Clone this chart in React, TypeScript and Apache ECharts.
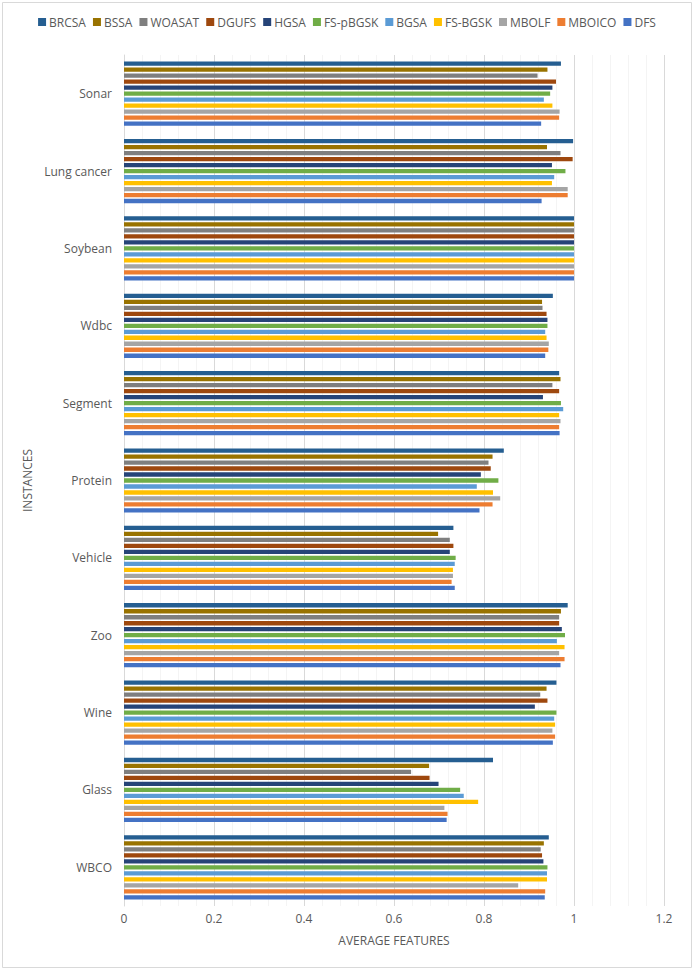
import React, { useEffect, useRef } from "react";
import * as echarts from "echarts";

const categories = ["WBCO", "Glass", "Wine", "Zoo", "Vehicle", "Protein", "Segment", "Wdbc", "Soybean", "Lung cancer", "Sonar"];
const seriesNames = ["BRCSA", "BSSA", "WOASAT", "DGUFS", "HGSA", "FS-pBGSK", "BGSA", "FS-BGSK", "MBOLF", "MBOICO", "DFS"];
const colors = ["#255E91", "#997300", "#7F7F7F", "#9E480E", "#264478", "#70AD47", "#5B9BD5", "#FFC000", "#A5A5A5", "#ED7D31", "#4472C4"];

// values per series, categories in order WBCO..Sonar
const BRCSA = [0.944, 0.820, 0.961, 0.986, 0.732, 0.844, 0.967, 0.953, 1.0, 0.998, 0.971];
const BSSA = [0.933, 0.678, 0.939, 0.971, 0.698, 0.819, 0.970, 0.929, 1.0, 0.940, 0.941];
const WOASAT = [0.926, 0.638, 0.925, 0.967, 0.724, 0.810, 0.952, 0.930, 1.0, 0.970, 0.919];
const DGUFS = [0.929, 0.679, 0.941, 0.967, 0.732, 0.815, 0.967, 0.939, 1.0, 0.997, 0.960];
const HGSA = [0.932, 0.699, 0.913, 0.973, 0.724, 0.793, 0.931, 0.941, 1.0, 0.951, 0.952];
const FS_pBGSK = [0.941, 0.747, 0.961, 0.980, 0.737, 0.832, 0.971, 0.941, 1.0, 0.981, 0.947];
const BGSA = [0.940, 0.755, 0.956, 0.962, 0.735, 0.784, 0.976, 0.936, 1.0, 0.956, 0.933];
const FS_BGSK = [0.940, 0.787, 0.958, 0.979, 0.731, 0.820, 0.967, 0.939, 1.0, 0.951, 0.952];
const MBOLF = [0.876, 0.712, 0.952, 0.967, 0.731, 0.836, 0.970, 0.944, 1.0, 0.986, 0.968];
const MBOICO = [0.936, 0.719, 0.958, 0.979, 0.728, 0.819, 0.967, 0.943, 1.0, 0.986, 0.967];
const DFS = [0.935, 0.717, 0.953, 0.970, 0.735, 0.790, 0.968, 0.936, 1.0, 0.928, 0.927];

const seriesData = [BRCSA, BSSA, WOASAT, DGUFS, HGSA, FS_pBGSK, BGSA, FS_BGSK, MBOLF, MBOICO, DFS];
const xTicks = { min: 0, max: 1.2, interval: 0.2 };

const FONT = "'Open Sans', 'Liberation Sans', sans-serif";
const TEXT = "#595959";

export default function App() {
  const ref = useRef<HTMLDivElement>(null);
  useEffect(() => {
    if (!ref.current) return;
    const chart = echarts.init(ref.current, undefined, { renderer: "svg" });
    chart.setOption({
      animation: false,
      backgroundColor: "#fff",
      graphic: [
        {
          type: "rect",
          shape: { x: 2.5, y: 2.5, width: 689, height: 965 },
          style: { fill: "none", stroke: "#d9d9d9", lineWidth: 1 },
          silent: true,
        },
      ],
      legend: {
        top: 11,
        left: "center",
        itemWidth: 8,
        itemHeight: 8,
        itemGap: 7,
        icon: "rect",
        data: seriesNames,
        textStyle: { color: TEXT, fontSize: 12, fontFamily: FONT, padding: [0, 0, 0, -2] },
      },
      grid: { left: 124, right: 30, top: 55, bottom: 64, containLabel: false },
      xAxis: {
        type: "value",
        min: xTicks.min,
        max: xTicks.max,
        interval: xTicks.interval,
        name: "AVERAGE FEATURES",
        nameLocation: "middle",
        nameGap: 28,
        nameTextStyle: { color: TEXT, fontSize: 12, fontFamily: FONT },
        axisLine: { show: false },
        axisTick: { show: false },
        axisLabel: { color: TEXT, fontSize: 12, fontFamily: FONT, margin: 6, formatter: (v: number) => String(Number(v.toFixed(1))) },
        splitLine: { show: true, lineStyle: { color: "#d9d9d9", width: 1 } },
        minorTick: { show: false, splitNumber: 5 },
        minorSplitLine: { show: true, lineStyle: { color: "#f4f4f4", width: 1 } },
      },
      yAxis: {
        type: "category",
        data: categories,
        name: "INSTANCES",
        nameLocation: "middle",
        nameGap: 88,
        nameRotate: 90,
        nameTextStyle: { color: TEXT, fontSize: 12, fontFamily: FONT },
        axisLine: { show: true, lineStyle: { color: "#d9d9d9" } },
        axisTick: { show: false },
        axisLabel: { color: TEXT, fontSize: 12, fontFamily: FONT, margin: 12 },
      },
      series: seriesNames.map((name, i) => ({
        name,
        type: "bar",
        data: seriesData[i],
        itemStyle: { color: colors[i] },
        barCategoryGap: "17%",
        barGap: "40%",
      })),
    });
    return () => chart.dispose();
  }, []);
  return <div ref={ref} style={{ position: "fixed", left: 0, top: 0, width: 694, height: 970 }} />;
}
